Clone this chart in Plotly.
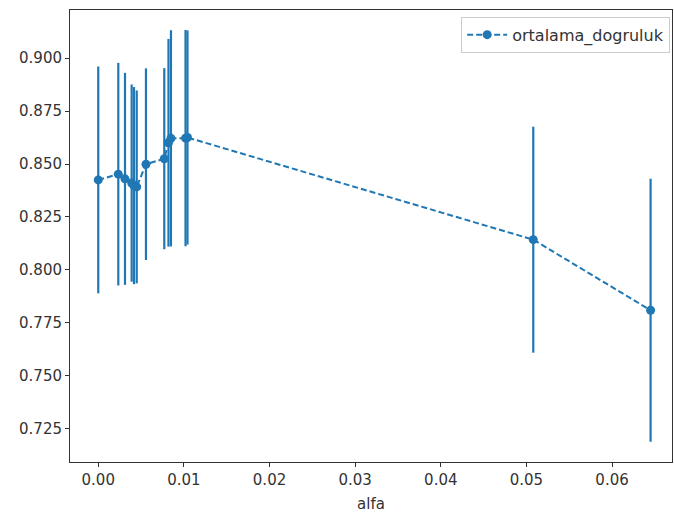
import plotly.graph_objects as go

alfa = [0.0, 0.00234, 0.00312, 0.00390, 0.00417, 0.00449, 0.00557, 0.00771, 0.00820, 0.00849, 0.01019, 0.01042, 0.0508, 0.0645]
ortalama_dogruluk = [0.8425, 0.8452, 0.8430, 0.8410, 0.8398, 0.8392, 0.8499, 0.8525, 0.8600, 0.8621, 0.8622, 0.8625, 0.8143, 0.7810]
std_dogruluk = [0.0535, 0.0525, 0.0500, 0.0465, 0.0465, 0.0455, 0.0452, 0.0427, 0.0490, 0.0510, 0.0510, 0.0505, 0.0533, 0.0620]

color = "#1f77b4"

fig = go.Figure()
fig.add_trace(go.Scatter(
    x=alfa, y=ortalama_dogruluk,
    mode="lines+markers",
    name="ortalama_dogruluk",
    line=dict(color=color, width=2, dash="6px,3px"),
    marker=dict(color=color, size=9),
    error_y=dict(type="data", array=std_dogruluk, visible=True, color=color, thickness=2.2, width=0),
))

axis_common = dict(
    showline=True, linecolor="#333", linewidth=1, mirror=True,
    ticks="outside", ticklen=4, tickcolor="#333", tickwidth=1,
    showgrid=False, zeroline=False,
    tickfont=dict(family="DejaVu Sans", size=15, color="#333"),
)

fig.update_layout(
    width=674, height=516,
    margin=dict(l=70, r=2, t=10, b=54),
    plot_bgcolor="white", paper_bgcolor="white",
    font=dict(family="DejaVu Sans", size=15, color="#333"),
    xaxis=dict(range=[-0.0033, 0.0670], dtick=0.01, tick0=0, tickformat=".2f",
               title=dict(text="alfa", font=dict(size=15), standoff=10), **axis_common),
    yaxis=dict(range=[0.70943, 0.92264], dtick=0.025, tick0=0, tickformat=".3f", **axis_common),
    legend=dict(x=0.997, y=0.985, xanchor="right", yanchor="top",
                bgcolor="white", bordercolor="#cccccc", borderwidth=1,
                itemwidth=40, font=dict(size=16)),
    showlegend=True,
)

fig.write_html("out.html", config={"displayModeBar": False},
               post_script="document.body.style.margin='0';document.body.style.overflow='hidden';")
